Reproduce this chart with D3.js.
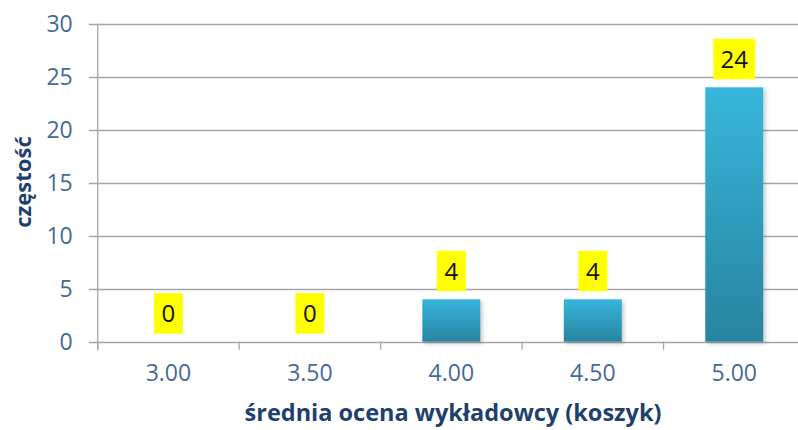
<!DOCTYPE html>
<html><head><meta charset="utf-8">
<script src="https://cdn.jsdelivr.net/npm/d3@7"></script>
<style>
html,body{margin:0;padding:0;background:#fff;}
svg{display:block;font-family:"Open Sans",sans-serif;}
</style></head>
<body>
<svg id="chart" width="798" height="430"></svg>
<script>
const categories = ["3.00","3.50","4.00","4.50","5.00"];
const values = [0, 0, 4, 4, 24];
const yTicks = [0,5,10,15,20,25,30];
const yTitle = "częstość";
const xTitle = "średnia ocena wykładowcy (koszyk)";

(function(){
const svg = d3.select("#chart");
const W = 798, H = 430;
const mLeft = 97.7, mRight = 805, mTop = 23.7, mBottom = 341.7;

const x = d3.scaleBand().domain(categories).range([mLeft, mRight]).paddingInner(0.59).paddingOuter(0.295);
const xb = d3.scaleBand().domain(categories).range([mLeft, mRight]);
const y = d3.scaleLinear().domain([0, 30]).range([mBottom, mTop]);

const defs = svg.append("defs");
const grad = defs.append("linearGradient").attr("id","barGrad").attr("x1",0).attr("y1",0).attr("x2",0).attr("y2",1);
grad.append("stop").attr("offset","0%").attr("stop-color","#37b6db");
grad.append("stop").attr("offset","100%").attr("stop-color","#2884a0");
const f = defs.append("filter").attr("id","shadow").attr("x","-20%").attr("y","-20%").attr("width","150%").attr("height","150%");
f.append("feDropShadow").attr("dx",2).attr("dy",2).attr("stdDeviation",2).attr("flood-color","#000").attr("flood-opacity",0.22);

// gridlines
svg.append("g").selectAll("line").data(yTicks).join("line")
  .attr("x1", mLeft - 9).attr("x2", W)
  .attr("y1", d => Math.round(y(d)) + 0.5).attr("y2", d => Math.round(y(d)) + 0.5)
  .attr("stroke", "#a6a6a6").attr("stroke-width", 1.3);

// y axis
const yAxis = d3.axisLeft(y).tickValues(yTicks).tickSize(0).tickPadding(25);
const gy = svg.append("g").attr("transform", `translate(${mLeft},0)`).call(yAxis);
gy.select(".domain").remove();
gy.selectAll("text").attr("fill","#46699a").attr("font-size","23px").attr("font-family","'Open Sans',sans-serif");
svg.append("line").attr("x1", mLeft).attr("x2", mLeft).attr("y1", mTop).attr("y2", mBottom + 8)
  .attr("stroke","#a6a6a6").attr("stroke-width",1.3);

// x axis
const xAxis = d3.axisBottom(xb).tickSize(0).tickPadding(23);
const gx = svg.append("g").attr("transform", `translate(0,${mBottom})`).call(xAxis);
gx.select(".domain").remove();
gx.selectAll("text").attr("fill","#46699a").attr("font-size","23px").attr("font-family","'Open Sans',sans-serif");
svg.append("g").selectAll("line").data(categories).join("line")
  .attr("x1", d => xb(d)).attr("x2", d => xb(d))
  .attr("y1", mBottom).attr("y2", mBottom + 8)
  .attr("stroke","#a6a6a6").attr("stroke-width",1.3);

// bars
svg.append("g").selectAll("rect").data(values.map((v,i)=>({c:categories[i],v}))).join("rect")
  .filter(d => d.v > 0)
  .attr("x", d => x(d.c)).attr("width", x.bandwidth())
  .attr("y", d => y(d.v)).attr("height", d => y(0) - y(d.v))
  .attr("fill","url(#barGrad)").attr("filter","url(#shadow)");

// labels
const lg = svg.append("g").selectAll("g").data(values.map((v,i)=>({c:categories[i],v}))).join("g")
  .attr("transform", d => `translate(${xb(d.c) + xb.bandwidth()/2},${y(d.v) - 8})`);
lg.append("rect")
  .attr("x", d => -(String(d.v).length === 1 ? 14.5 : 21))
  .attr("width", d => String(d.v).length === 1 ? 29 : 42)
  .attr("y", -40.5).attr("height", 40.5)
  .attr("fill","#ffff00");
lg.append("text").attr("text-anchor","middle").attr("y",-20).attr("dy","0.36em")
  .attr("font-size","24px").attr("fill","#111")
  .text(d => d.v);

// titles
svg.append("text").attr("transform", `translate(31,182) rotate(-90)`)
  .attr("text-anchor","middle").attr("font-weight","bold").attr("font-size","22px")
  .attr("fill","#1f3f6e").text(yTitle);
svg.append("text").attr("x", 453).attr("y", 421)
  .attr("text-anchor","middle").attr("font-weight","bold").attr("font-size","23.5px")
  .attr("fill","#1f3f6e").text(xTitle);
})();
</script>
</body></html>
